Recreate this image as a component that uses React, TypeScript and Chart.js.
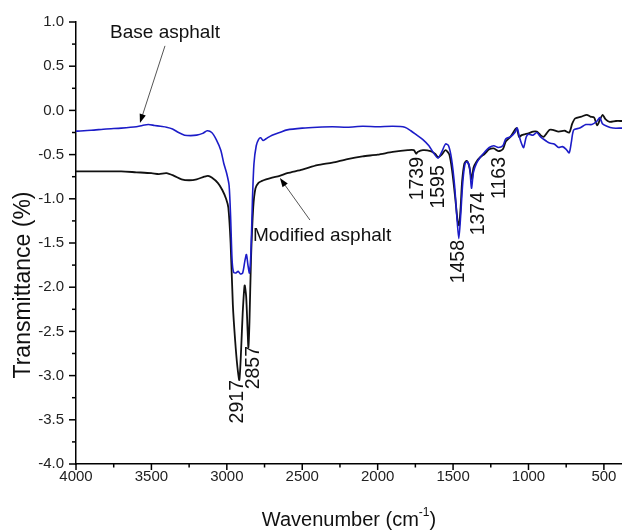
import { useEffect, useRef } from "react";
import { Chart, registerables } from "chart.js";

Chart.register(...registerables);

// ---- Data ----
const baseWavenumbers = [
  4000, 3900, 3800, 3700, 3600, 3560, 3520, 3480, 3440, 3400, 3360, 3320, 3280, 3240, 3200, 3160, 3130, 3100,
  3070, 3040, 3020, 3000, 2985, 2975, 2965, 2955, 2940, 2925, 2910, 2895, 2880, 2870, 2860, 2850, 2840, 2830,
  2820, 2805, 2790, 2775, 2760, 2740, 2700, 2650, 2600, 2500, 2400, 2300, 2200, 2100, 2000, 1900, 1820, 1780,
  1740, 1700, 1660, 1630, 1600, 1575, 1550, 1530, 1510, 1490, 1475, 1462, 1450, 1435, 1420, 1405, 1390, 1378,
  1365, 1345, 1320, 1290, 1260, 1230, 1200, 1170, 1150, 1120, 1090, 1075, 1060, 1045, 1032, 1015, 1000, 970,
  945, 920, 880, 860, 830, 800, 775, 750, 730, 715, 700, 660, 620, 580, 545, 527, 510, 480, 440, 380,
];
const baseValues = [
  -0.235, -0.225, -0.21, -0.2, -0.185, -0.17, -0.16, -0.17, -0.18, -0.19, -0.21, -0.25, -0.28, -0.285, -0.28,
  -0.26, -0.23, -0.25, -0.33, -0.45, -0.6, -0.72, -0.85, -1.2, -1.7, -1.83, -1.84, -1.82, -1.85, -1.84, -1.7,
  -1.63, -1.75, -1.84, -1.6, -1.0, -0.6, -0.4, -0.33, -0.31, -0.34, -0.32, -0.28, -0.25, -0.22, -0.2, -0.19,
  -0.185, -0.19, -0.18, -0.185, -0.18, -0.19, -0.23, -0.28, -0.33, -0.4, -0.48, -0.54, -0.47, -0.38, -0.4,
  -0.55, -0.85, -1.2, -1.45, -1.2, -0.8, -0.6, -0.58, -0.65, -0.88, -0.7, -0.6, -0.53, -0.47, -0.42, -0.4,
  -0.42, -0.4, -0.32, -0.3, -0.25, -0.2, -0.3, -0.38, -0.42, -0.3, -0.27, -0.28, -0.25, -0.3, -0.35, -0.37,
  -0.38, -0.42, -0.41, -0.44, -0.48, -0.35, -0.22, -0.2, -0.16, -0.16, -0.12, -0.08, -0.15, -0.18, -0.2, -0.2,
];

const modifiedWavenumbers = [
  4000, 3900, 3800, 3700, 3600, 3500, 3450, 3400, 3350, 3300, 3250, 3200, 3150, 3125, 3100, 3060, 3030, 3005,
  2990, 2975, 2960, 2945, 2930, 2917, 2905, 2895, 2882, 2872, 2862, 2857, 2850, 2840, 2825, 2810, 2790, 2770,
  2740, 2700, 2650, 2600, 2500, 2400, 2300, 2200, 2100, 2000, 1900, 1800, 1760, 1745, 1735, 1700, 1650, 1620,
  1598, 1575, 1550, 1525, 1505, 1485, 1470, 1460, 1450, 1440, 1425, 1410, 1395, 1380, 1374, 1365, 1345, 1320,
  1290, 1260, 1230, 1200, 1170, 1150, 1120, 1090, 1078, 1062, 1045, 1025, 1000, 970, 945, 920, 900, 880, 860,
  840, 800, 760, 730, 710, 690, 650, 613, 590, 565, 545, 525, 508, 490, 462, 420, 380,
];
const modifiedValues = [
  -0.69, -0.69, -0.69, -0.69, -0.7, -0.71, -0.72, -0.71, -0.74, -0.78, -0.79, -0.78, -0.75, -0.74, -0.76, -0.82,
  -0.9, -1.0, -1.1, -1.5, -2.2, -2.6, -2.9, -3.05, -2.7, -2.3, -1.98, -2.1, -2.5, -2.68, -2.4, -1.7, -1.1, -0.88,
  -0.82, -0.8, -0.78, -0.76, -0.74, -0.71, -0.67, -0.62, -0.59, -0.55, -0.52, -0.5, -0.47, -0.45, -0.45, -0.49,
  -0.47, -0.45, -0.46, -0.49, -0.53, -0.5, -0.45, -0.5, -0.7, -1.0, -1.25, -1.3, -1.1, -0.8, -0.6, -0.57, -0.62,
  -0.75, -0.78, -0.65, -0.58, -0.53, -0.49, -0.44, -0.43, -0.46, -0.44, -0.35, -0.3, -0.22, -0.2, -0.3, -0.28,
  -0.27, -0.26, -0.24, -0.24, -0.28, -0.3, -0.26, -0.22, -0.22, -0.24, -0.23, -0.25, -0.15, -0.09, -0.07, -0.05,
  -0.07, -0.08, -0.17, -0.1, -0.05, -0.1, -0.13, -0.12, -0.12,
];

// Axis ticks
const xTickValues = [4000, 3500, 3000, 2500, 2000, 1500, 1000, 500];
const xMinorTickValues = [3750, 3250, 2750, 2250, 1750, 1250, 750];
const yTickValues = [1.0, 0.5, 0.0, -0.5, -1.0, -1.5, -2.0, -2.5, -3.0, -3.5, -4.0];
const yMinorTickValues = [0.75, 0.25, -0.25, -0.75, -1.25, -1.75, -2.25, -2.75, -3.25, -3.75];

// Peak labels: text, wavenumber at label centre, transmittance at label top
const peakLabels = ["2917", "2857", "1739", "1595", "1458", "1374", "1163"];
const peakLabelX = [2926, 2820, 1734, 1594, 1462, 1329, 1190];
const peakLabelTop = [-3.05, -2.665, -0.527, -0.62, -1.466, -0.923, -0.527];

// Curve name annotations with arrows
const curveNames = ["Base asphalt", "Modified asphalt"];
const curveNameX = [3410, 2827];
const curveNameY = [0.876, -1.42];
const curveNameAlign = ["center", "left"];
const arrowFromX = [3410, 2449];
const arrowFromY = [0.73, -1.24];
const arrowToX = [3576, 2648];
const arrowToY = [-0.143, -0.765];

const xMin = 380;
const xMax = 4000;
const yMin = -4.0;
const yMax = 1.0;

const FONT = "'Liberation Sans', Arial, sans-serif";

const decorPlugin = {
  id: "decor",
  afterDraw(chart: any) {
    const { ctx, chartArea, scales } = chart;
    const xs = scales.x;
    const ys = scales.y;
    ctx.save();
    // tick marks (major + minor), outward
    ctx.strokeStyle = "#000";
    ctx.lineWidth = 1.5;
    const xTick = (v: number, len: number) => {
      const px = xs.getPixelForValue(v);
      ctx.beginPath();
      ctx.moveTo(px, chartArea.bottom);
      ctx.lineTo(px, chartArea.bottom + len);
      ctx.stroke();
    };
    const yTick = (v: number, len: number) => {
      const py = ys.getPixelForValue(v);
      ctx.beginPath();
      ctx.moveTo(chartArea.left, py);
      ctx.lineTo(chartArea.left - len, py);
      ctx.stroke();
    };
    xTickValues.forEach((v) => xTick(v, 6));
    xMinorTickValues.forEach((v) => xTick(v, 3.5));
    yTickValues.forEach((v) => yTick(v, 7));
    yMinorTickValues.forEach((v) => yTick(v, 4));

    // peak labels (rotated)
    ctx.fillStyle = "#111";
    ctx.font = `19.5px ${FONT}`;
    peakLabels.forEach((t, i) => {
      const px = xs.getPixelForValue(peakLabelX[i]);
      const py = ys.getPixelForValue(peakLabelTop[i]);
      ctx.save();
      ctx.translate(px, py);
      ctx.rotate(-Math.PI / 2);
      ctx.textAlign = "right";
      ctx.textBaseline = "middle";
      ctx.fillText(t, 0, 0);
      ctx.restore();
    });

    // curve name annotations with arrows
    ctx.font = `19px ${FONT}`;
    curveNames.forEach((t, i) => {
      const tx = xs.getPixelForValue(curveNameX[i]);
      const ty = ys.getPixelForValue(curveNameY[i]);
      ctx.textAlign = curveNameAlign[i] as CanvasTextAlign;
      ctx.textBaseline = "middle";
      ctx.fillStyle = "#111";
      ctx.fillText(t, tx, ty);
      const x1 = xs.getPixelForValue(arrowFromX[i]);
      const y1 = ys.getPixelForValue(arrowFromY[i]);
      const x2 = xs.getPixelForValue(arrowToX[i]);
      const y2 = ys.getPixelForValue(arrowToY[i]);
      const ang = Math.atan2(y2 - y1, x2 - x1);
      const headLen = 9;
      const headW = 3.2;
      ctx.strokeStyle = "#555";
      ctx.lineWidth = 1;
      ctx.beginPath();
      ctx.moveTo(x1, y1);
      ctx.lineTo(x2 - Math.cos(ang) * headLen * 0.8, y2 - Math.sin(ang) * headLen * 0.8);
      ctx.stroke();
      ctx.fillStyle = "#000";
      ctx.beginPath();
      ctx.moveTo(x2, y2);
      ctx.lineTo(
        x2 - Math.cos(ang) * headLen + Math.sin(ang) * headW,
        y2 - Math.sin(ang) * headLen - Math.cos(ang) * headW
      );
      ctx.lineTo(
        x2 - Math.cos(ang) * headLen - Math.sin(ang) * headW,
        y2 - Math.sin(ang) * headLen + Math.cos(ang) * headW
      );
      ctx.closePath();
      ctx.fill();
    });

    // axis titles
    ctx.fillStyle = "#111";
    ctx.font = `20px ${FONT}`;
    ctx.textBaseline = "alphabetic";
    const main = "Wavenumber (cm";
    const sup = "-1";
    const close = ")";
    const wMain = ctx.measureText(main).width;
    const wClose = ctx.measureText(close).width;
    ctx.font = `12px ${FONT}`;
    const wSup = ctx.measureText(sup).width;
    const total = wMain + wSup + wClose;
    const cx = (chartArea.left + chartArea.right) / 2;
    const base = 526;
    let sx = cx - total / 2;
    ctx.textAlign = "left";
    ctx.font = `20px ${FONT}`;
    ctx.fillText(main, sx, base);
    sx += wMain;
    ctx.font = `12px ${FONT}`;
    ctx.fillText(sup, sx, base - 10);
    sx += wSup;
    ctx.font = `20px ${FONT}`;
    ctx.fillText(close, sx, base);

    ctx.save();
    ctx.font = `23px ${FONT}`;
    ctx.translate(30, 285);
    ctx.rotate(-Math.PI / 2);
    ctx.textAlign = "center";
    ctx.textBaseline = "alphabetic";
    ctx.fillText("Transmittance (%)", 0, 0);
    ctx.restore();

    ctx.restore();
  },
};

export default function App() {
  const ref = useRef<HTMLCanvasElement | null>(null);
  useEffect(() => {
    if (!ref.current) return;
    const chart = new Chart(ref.current, {
      type: "line",
      data: {
        datasets: [
          {
            label: "Base asphalt",
            data: baseWavenumbers.map((x, i) => ({ x, y: baseValues[i] })),
            borderColor: "#1c1cc8",
            borderWidth: 1.6,
            pointRadius: 0,
            tension: 0.25,
            fill: false,
          },
          {
            label: "Modified asphalt",
            data: modifiedWavenumbers.map((x, i) => ({ x, y: modifiedValues[i] })),
            borderColor: "#111111",
            borderWidth: 1.8,
            pointRadius: 0,
            tension: 0.25,
            fill: false,
          },
        ],
      },
      options: {
        animation: false,
        responsive: false,
        devicePixelRatio: 1,
        layout: { padding: { top: 22, right: 0, left: 0, bottom: 0 } },
        plugins: {
          legend: { display: false },
          tooltip: { enabled: false },
          title: { display: false },
        },
        scales: {
          x: {
            type: "linear",
            reverse: true,
            min: xMin,
            max: xMax,
            grid: { display: false, drawTicks: false },
            border: { display: true, color: "#000", width: 1.5 },
            afterBuildTicks: (s: any) => {
              s.ticks = xTickValues.map((v) => ({ value: v }));
            },
            ticks: {
              autoSkip: false,
              maxRotation: 0,
              padding: 4,
              color: "#222",
              font: { family: FONT, size: 15 },
              callback: (v: any) => String(v),
            },
            afterFit: (s: any) => {
              s.height = 66;
            },
          },
          y: {
            type: "linear",
            min: yMin,
            max: yMax,
            grid: { display: false, drawTicks: false },
            border: { display: true, color: "#000", width: 1.5 },
            afterBuildTicks: (s: any) => {
              s.ticks = yTickValues.map((v) => ({ value: v }));
            },
            ticks: {
              padding: 12,
              color: "#222",
              font: { family: FONT, size: 15 },
              callback: (v: any) => Number(v).toFixed(1),
            },
            afterFit: (s: any) => {
              s.width = 76;
            },
          },
        },
      },
      plugins: [decorPlugin],
    });
    return () => chart.destroy();
  }, []);
  return (
    <div style={{ position: "absolute", left: 0, top: 0, width: 622, height: 530, background: "#fff" }}>
      <canvas ref={ref} width={622} height={530} />
    </div>
  );
}
